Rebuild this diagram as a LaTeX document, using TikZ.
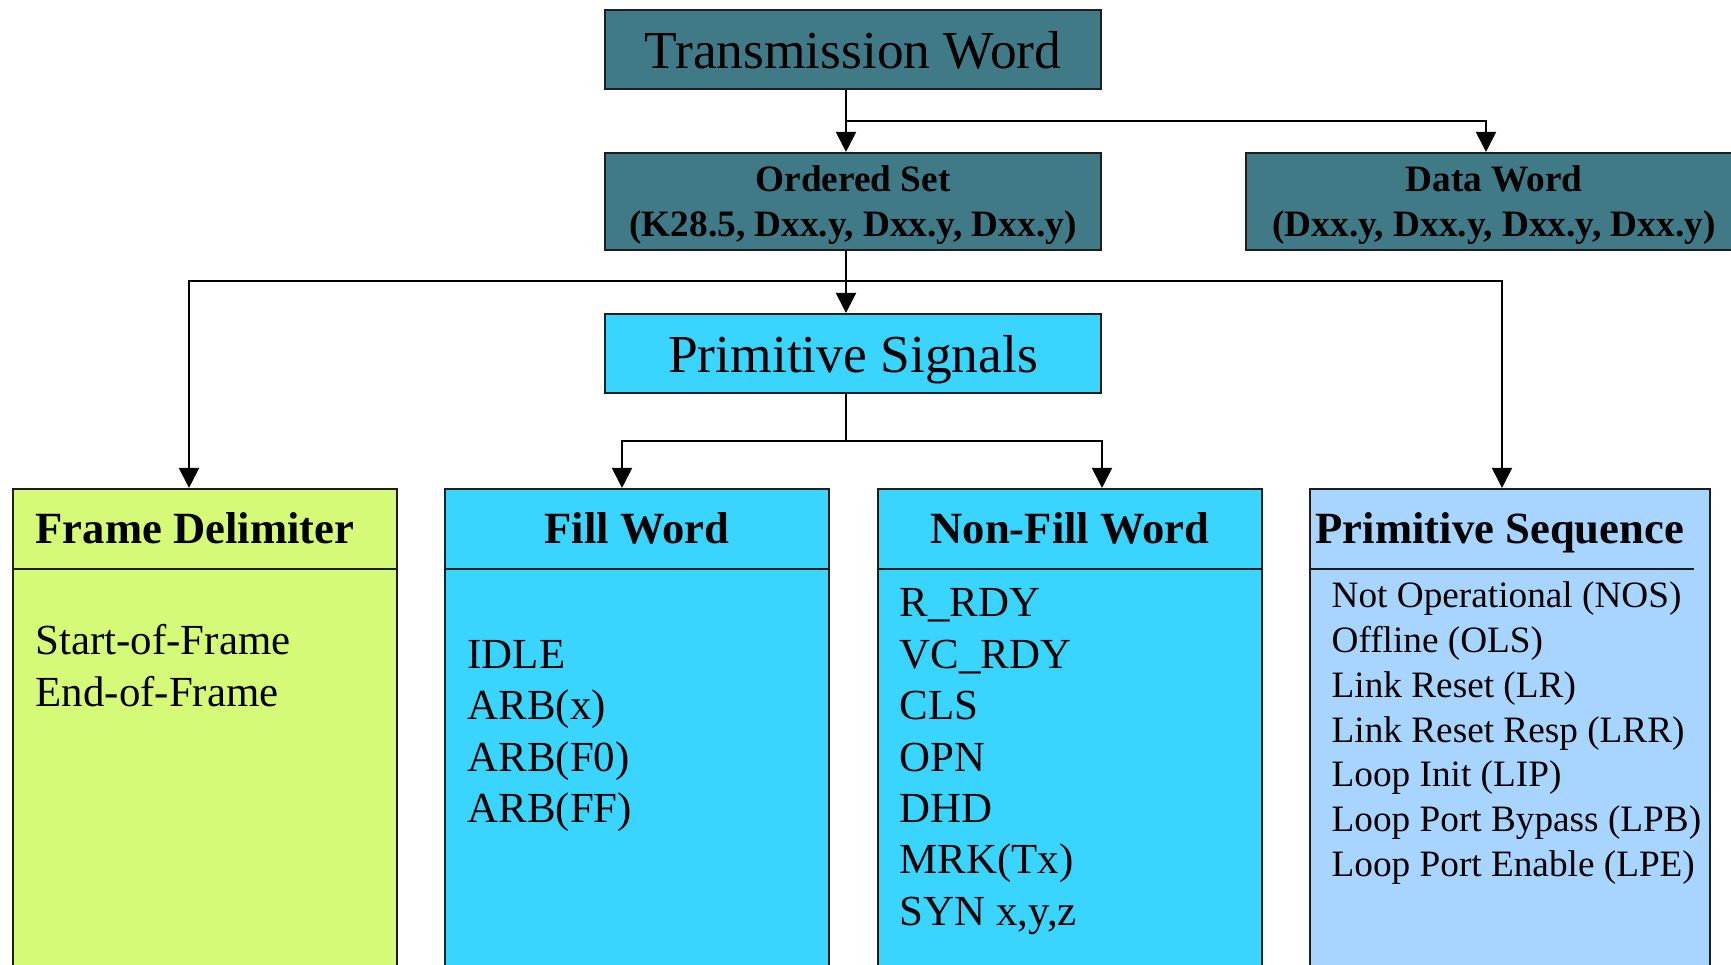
\documentclass[tikz,border=0pt]{standalone}
\usepackage{fontspec}
\setmainfont{Liberation Serif}
\usetikzlibrary{arrows.meta}
\definecolor{edge}{HTML}{1E1E1E}
\definecolor{tealfill}{HTML}{407A87}
\definecolor{cyanfill}{HTML}{3AD5FF}
\definecolor{limefill}{HTML}{D4FA78}
\definecolor{skyfill}{HTML}{A8D5FF}
\tikzset{
  blk/.style={draw=edge,line width=0.6pt,minimum width=4.96cm,inner sep=0pt,
              align=center,text depth=0pt},
  col/.style={draw=edge,line width=0.6pt,minimum height=5.01cm,inner sep=0pt},
  sep/.style={draw=edge,line width=0.6pt},
  hd/.style={font=\fontsize{12.7}{15}\selectfont\bfseries,anchor=base,inner sep=0pt},
  itm/.style={font=\fontsize{12.2}{14}\selectfont,anchor=base west,inner sep=0pt},
  arr/.style={-{Triangle[length=2mm,width=2mm]},line width=0.6pt},
}

\begin{document}
\begin{tikzpicture}
  \useasboundingbox (0,0) rectangle (17.31,-9.65);
  \clip (0,0) rectangle (17.31,-9.65);

  % upper levels
  \node[blk,fill=tealfill,minimum height=0.79cm,font=\fontsize{15.2}{18}\selectfont]
       (tw) at (8.53,-0.495) {Transmission Word};
  \node[blk,fill=tealfill,minimum height=0.97cm,font=\fontsize{10.6}{12.8}\selectfont\bfseries]
       (os) at (8.53,-2.015) {Ordered Set\\(K28.5, Dxx.y, Dxx.y, Dxx.y)};
  \node[blk,fill=tealfill,minimum height=0.97cm,font=\fontsize{10.6}{12.8}\selectfont\bfseries]
       (dw) at (14.94,-2.015) {Data Word\\(Dxx.y, Dxx.y, Dxx.y, Dxx.y)};
  \node[blk,fill=cyanfill,minimum height=0.79cm,font=\fontsize{15.2}{18}\selectfont]
       (ps) at (8.53,-3.535) {Primitive Signals};

  % columns
  \node[col,fill=limefill,minimum width=3.84cm] (fd) at (2.05,-7.395) {};
  \node[col,fill=cyanfill,minimum width=3.84cm] (fw) at (6.37,-7.395) {};
  \node[col,fill=cyanfill,minimum width=3.84cm] (nf) at (10.70,-7.395) {};
  \node[col,fill=skyfill,minimum width=4.00cm] (pq) at (15.10,-7.395) {};
  \foreach \b in {fd,fw,nf}
    \draw[sep] ([yshift=-0.81cm]\b.north west) -- ([yshift=-0.81cm]\b.north east);
  \draw[sep] ([yshift=-0.81cm]pq.north west) -- ++(3.85,0);

  \node[hd,anchor=base west] (fdh) at (0.35,-5.44) {Frame Delimiter};
  \node[hd] (fwh) at (6.37,-5.44) {Fill Word};
  \node[hd] (nfh) at (10.70,-5.44) {Non-Fill Word};
  \node[hd,anchor=base west] (pqh) at (13.15,-5.44) {Primitive Sequence};

  \foreach \t [count=\k] in {Start-of-Frame,End-of-Frame}
    \node[itm] (fd\k) at (0.35,{-6.55-(\k-1)*0.517}) {\t};
  \foreach \t [count=\k] in {IDLE,ARB(x),ARB(F0),ARB(FF)}
    \node[itm] (fw\k) at (4.67,{-6.685-(\k-1)*0.515}) {\t};
  \foreach \t [count=\k] in {R\_RDY,VC\_RDY,CLS,OPN,DHD,MRK(Tx),{SYN x,y,z}}
    \node[itm] (nf\k) at (8.99,{-6.17-(\k-1)*0.514}) {\t};
  \foreach \t [count=\k] in {Not Operational (NOS),Offline (OLS),Link Reset (LR),
      Link Reset Resp (LRR),Loop Init (LIP),Loop Port Bypass (LPB),Loop Port Enable (LPE)}
    \node[itm,font=\fontsize{10.6}{12}\selectfont] (pq\k) at (13.31,{-6.08-(\k-1)*0.447}) {\t};

  % connectors
  \coordinate (b1) at (8.46,-1.21);
  \coordinate (b2) at (8.46,-2.81);
  \coordinate (b3) at (8.46,-4.41);
  \coordinate (xd) at (14.86,0);
  \coordinate (xl) at (1.89,0);
  \coordinate (xr) at (15.02,0);
  \coordinate (xf) at (6.22,0);
  \coordinate (xn) at (11.02,0);

  \draw[arr] (tw.south -| b1) -- (os.north -| b1);
  \draw[arr] (b1) -| (dw.north -| xd);
  \draw[arr] (os.south -| b2) -- (ps.north -| b2);
  \draw[arr] (b2) -| (fd.north -| xl);
  \draw[arr] (b2) -| (pq.north -| xr);
  \draw[line width=0.6pt] (ps.south -| b3) -- (b3);
  \draw[arr] (b3) -| (fw.north -| xf);
  \draw[arr] (b3) -| (nf.north -| xn);
\end{tikzpicture}
\end{document}
